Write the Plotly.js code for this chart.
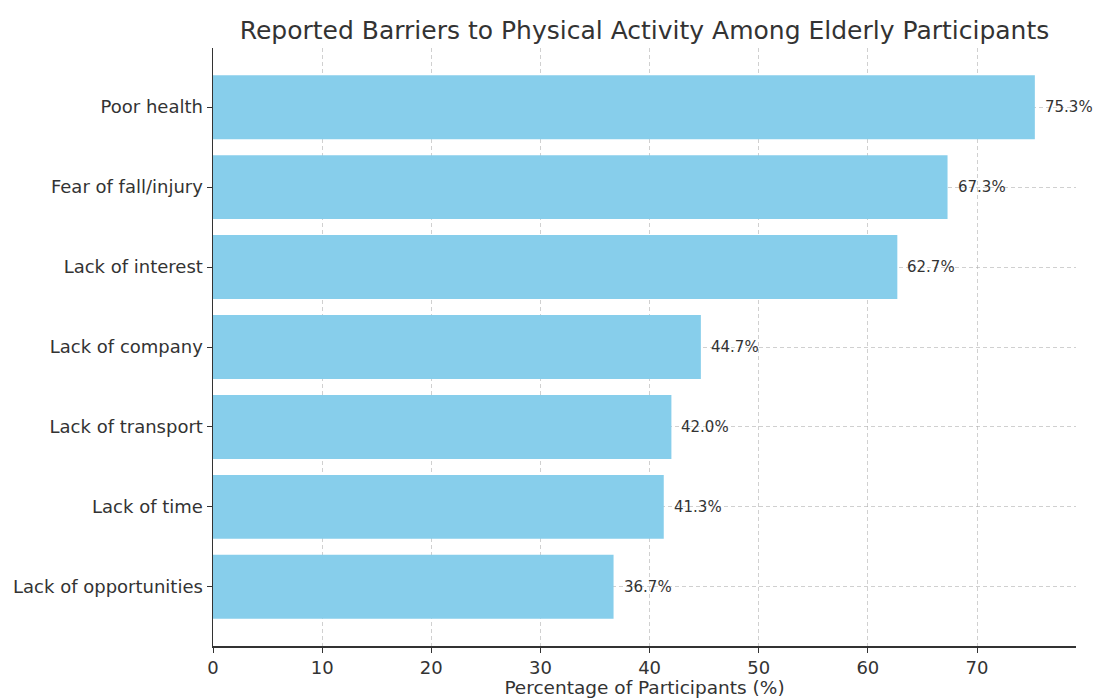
<!DOCTYPE html>
<html>
<head>
<meta charset="utf-8">
<script src="https://cdn.plot.ly/plotly-3.0.1.min.js"></script>
<style>html,body{margin:0;padding:0;background:#fff;}#chart{width:1094px;height:698px;}</style>
</head>
<body>
<div id="chart"></div>
<script>
const categories = ["Lack of opportunities","Lack of time","Lack of transport","Lack of company","Lack of interest","Fear of fall/injury","Poor health"];
const percentages = [36.7, 41.3, 42.0, 44.7, 62.7, 67.3, 75.3];
const xTicks = [0,10,20,30,40,50,60,70];

const font = "DejaVu Sans, sans-serif";
const annotations = categories.map((c,i)=>({
  x: percentages[i], y: c, xref:'x', yref:'y',
  text: percentages[i].toFixed(1) + '%',
  showarrow:false, xanchor:'left', yanchor:'middle', xshift:8,
  font:{family:font, size:15, color:'#333333'}
}));

const data = [{
  type:'bar', orientation:'h',
  x: percentages, y: categories,
  marker:{color:'#87CEEB', line:{width:0}},
  width:0.8, hoverinfo:'skip'
}];

const grid = 'rgba(170,170,170,0.55)';
const layout = {
  width:1094, height:698,
  margin:{l:213, r:18, t:48, b:52},
  paper_bgcolor:'#ffffff', plot_bgcolor:'#ffffff',
  title:{text:'Reported Barriers to Physical Activity Among Elderly Participants',
    font:{family:font, size:25, color:'#333333'},
    x:0.5, xref:'paper', xanchor:'center', y:1, yref:'paper', yanchor:'bottom', pad:{b:9}},
  xaxis:{range:[0, 79.07], tickvals:xTicks, ticktext:xTicks.map(String),
    showgrid:true, gridcolor:grid, griddash:'4px,3px', gridwidth:1,
    showline:true, linecolor:'#333333', linewidth:1.5, ticks:'outside', ticklen:5, tickcolor:'#333333',
    tickfont:{family:font, size:18, color:'#333333'}, zeroline:false,
    title:{text:'Percentage of Participants (%)', font:{family:font, size:18.5, color:'#333333'}, standoff:6}},
  yaxis:{range:[-0.74, 6.74], showgrid:true, gridcolor:grid, griddash:'4px,3px', gridwidth:1,
    showline:true, linecolor:'#333333', linewidth:1.5, ticks:'outside', ticklen:5, tickcolor:'#333333',
    tickfont:{family:font, size:18, color:'#333333'}, zeroline:false},
  annotations: annotations,
  showlegend:false
};
Plotly.newPlot('chart', data, layout, {displayModeBar:false, staticPlot:true});
</script>
</body>
</html>
